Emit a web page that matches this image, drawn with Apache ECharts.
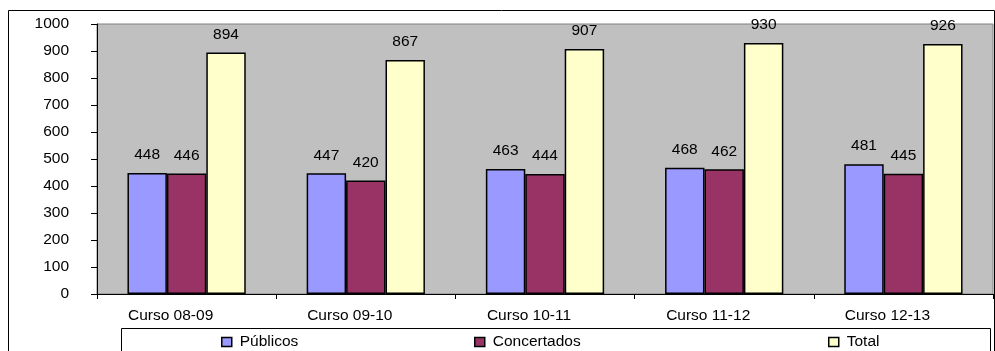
<!DOCTYPE html>
<html>
<head>
<meta charset="utf-8">
<script src="https://cdn.jsdelivr.net/npm/echarts@6/dist/echarts.min.js"></script>
<style>
html,body{margin:0;padding:0;background:#fff;}
#c{width:995px;height:351px;}
</style>
</head>
<body>
<div id="c"></div>
<script>
const categories = ['Curso 08-09', 'Curso 09-10', 'Curso 10-11', 'Curso 11-12', 'Curso 12-13'];
const publicos = [448, 447, 463, 468, 481];
const concertados = [446, 420, 444, 462, 445];
const total = [894, 867, 907, 930, 926];
const seriesNames = ['Públicos', 'Concertados', 'Total'];
const seriesColors = ['#9999FF', '#993366', '#FFFFCC'];
const yTicks = [0, 100, 200, 300, 400, 500, 600, 700, 800, 900, 1000];

const FONT = 'Liberation Sans, Arial, sans-serif';
const FS = 15.5;
const chart = echarts.init(document.getElementById('c'), null, {renderer: 'canvas'});
const data = [publicos, concertados, total];

const legendLefts = [221, 474, 828];
chart.setOption({
  animation: false,
  textStyle: {fontFamily: FONT},
  grid: {
    left: 97, right: 2, top: 24, bottom: 57,
    show: true, backgroundColor: '#C0C0C0', borderColor: '#808080', borderWidth: 1
  },
  graphic: [
    {type: 'rect', shape: {x: 8.5, y: 10.5, width: 986, height: 350}, style: {fill: 'none', stroke: '#000', lineWidth: 1}, z: -10},
    {type: 'rect', shape: {x: 121.5, y: 328.5, width: 869, height: 40}, style: {fill: '#fff', stroke: '#000', lineWidth: 1}, z: -5}
  ],
  legend: seriesNames.map((n, i) => ({
    data: [n],
    left: legendLefts[i],
    top: 334,
    icon: 'rect',
    itemWidth: 10,
    itemHeight: 9,
    itemGap: 0,
    padding: 0,
    textStyle: {fontFamily: FONT, fontSize: FS, color: '#000', padding: [0, 0, 0, 3]},
    itemStyle: {borderColor: '#000', borderWidth: 1.5}
  })),
  xAxis: {
    type: 'category',
    data: categories,
    axisLine: {show: true, lineStyle: {color: '#000', width: 1}},
    axisTick: {show: true, length: 5, inside: false, alignWithLabel: false, lineStyle: {color: '#000'}},
    axisLabel: {fontFamily: FONT, fontSize: FS, color: '#000', margin: 14, padding: [0, 32, 0, 0]},
    splitLine: {show: false}
  },
  yAxis: {
    type: 'value',
    min: yTicks[0], max: yTicks[yTicks.length - 1], interval: 100,
    axisLine: {show: true, lineStyle: {color: '#000', width: 1}},
    axisTick: {show: true, length: 6, inside: false, lineStyle: {color: '#000'}},
    axisLabel: {fontFamily: FONT, fontSize: FS, color: '#000', margin: 28, formatter: v => String(v)},
    splitLine: {show: false}
  },
  series: seriesNames.map((n, i) => ({
    name: n,
    type: 'bar',
    data: data[i],
    barGap: '0%',
    barCategoryGap: '34%',
    itemStyle: {color: seriesColors[i], borderColor: '#000', borderWidth: 1.5},
    label: {show: true, position: 'top', distance: 10, fontFamily: FONT, fontSize: FS, color: '#000'}
  }))
});
</script>
</body>
</html>
